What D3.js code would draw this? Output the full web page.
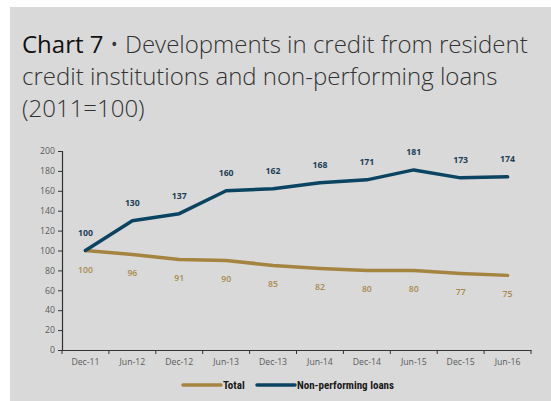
<!DOCTYPE html>
<html><head><meta charset="utf-8">
<script src="https://cdn.jsdelivr.net/npm/d3@7"></script>
<style>
html,body{margin:0;padding:0;background:#fff;}
svg{display:block;}
</style></head>
<body>
<svg id="c" width="551" height="401"></svg>
<script>
const categories = ["Dec-11","Jun-12","Dec-12","Jun-13","Dec-13","Jun-14","Dec-14","Jun-15","Dec-15","Jun-16"];
const totalValues = [100,96,91,90,85,82,80,80,77,75];
const nplValues = [100,130,137,160,162,168,171,181,173,174];
const yTicks = [0,20,40,60,80,100,120,140,160,180,200];
const seriesNames = ["Total","Non-performing loans"];
const titleLines = [["Chart 7", " \u2022 Developments in credit from resident"],["","credit institutions and non-performing loans"],["","(2011=100)"]];

const svg = d3.select("#c");
const gold = "#a5843f", navy = "#0b4462";
svg.append("rect").attr("x",10).attr("y",7).attr("width",541).attr("height",394).attr("fill","#d9d9d9");

// title
const t = svg.append("g");
titleLines.forEach((l,i)=>{
  const tx = t.append("text").attr("x",22).attr("y",53+i*32).attr("font-family","'Open Sans'").attr("font-size",24);
  if(l[0]) tx.append("tspan").attr("fill","#111").attr("font-weight",400).text(l[0]);
  tx.append("tspan").attr("fill","#333").attr("font-weight",300).text(l[1]);
});

const x = d3.scaleBand().domain(categories).range([62,531]);
const y = d3.scaleLinear().domain([0,200]).range([350,151]);

const axisFont = "'Open Sans'";
const gy = svg.append("g").attr("transform","translate(62,0)").call(d3.axisLeft(y).tickValues(yTicks).tickSize(4).tickPadding(3));
const gx = svg.append("g").attr("transform","translate(0,350)").call(d3.axisBottom(x).tickSize(0).tickPadding(9));
[gy,gx].forEach(g=>{
  g.selectAll("text").attr("font-family",axisFont).attr("font-size",8.7).attr("fill","#595959");
  g.select(".domain").attr("stroke","#333").attr("stroke-width",1.2);
  g.selectAll(".tick line").attr("stroke","#333");
});
// x tick marks at band boundaries
const bounds = categories.map(c=>x(c)).concat([x.range()[1]]);
svg.append("g").selectAll("line").data(bounds).join("line")
  .attr("x1",d=>d).attr("x2",d=>d).attr("y1",350).attr("y2",354).attr("stroke","#333");

const line = d3.line().x((d,i)=>x(categories[i])+x.bandwidth()/2).y(d=>y(d));
svg.append("path").datum(totalValues).attr("d",line).attr("fill","none").attr("stroke",gold).attr("stroke-width",3.5).attr("stroke-linejoin","round").attr("stroke-linecap","round");
svg.append("path").datum(nplValues).attr("d",line).attr("fill","none").attr("stroke",navy).attr("stroke-width",3.5).attr("stroke-linejoin","round").attr("stroke-linecap","round");

svg.append("g").selectAll("text").data(totalValues).join("text")
  .attr("x",(d,i)=>x(categories[i])+x.bandwidth()/2).attr("y",d=>y(d)+22)
  .attr("text-anchor","middle").attr("font-family","'Open Sans'").attr("font-size",8.7).attr("font-weight",600)
  .attr("fill","#a98a4c").text(d=>d);
svg.append("g").selectAll("text").data(nplValues).join("text")
  .attr("x",(d,i)=>x(categories[i])+x.bandwidth()/2).attr("y",d=>y(d)-15)
  .attr("text-anchor","middle").attr("font-family","'Open Sans'").attr("font-size",8.7).attr("font-weight",700)
  .attr("fill","#1d3f57").text(d=>d);

// legend
const leg = [{n:seriesNames[0],c:gold,x1:183,x2:221},{n:seriesNames[1],c:navy,x1:257,x2:295}];
const lg = svg.append("g");
leg.forEach(d=>{
  lg.append("line").attr("x1",d.x1).attr("x2",d.x2).attr("y1",385).attr("y2",385).attr("stroke",d.c).attr("stroke-width",3.5).attr("stroke-linecap","round");
  lg.append("text").attr("x",d.x2+2).attr("y",389).attr("font-family","'Liberation Sans Narrow','Roboto Condensed',sans-serif").attr("font-weight",700).attr("font-size",11).attr("fill","#1a1a1a").text(d.n);
});
</script>
</body></html>
